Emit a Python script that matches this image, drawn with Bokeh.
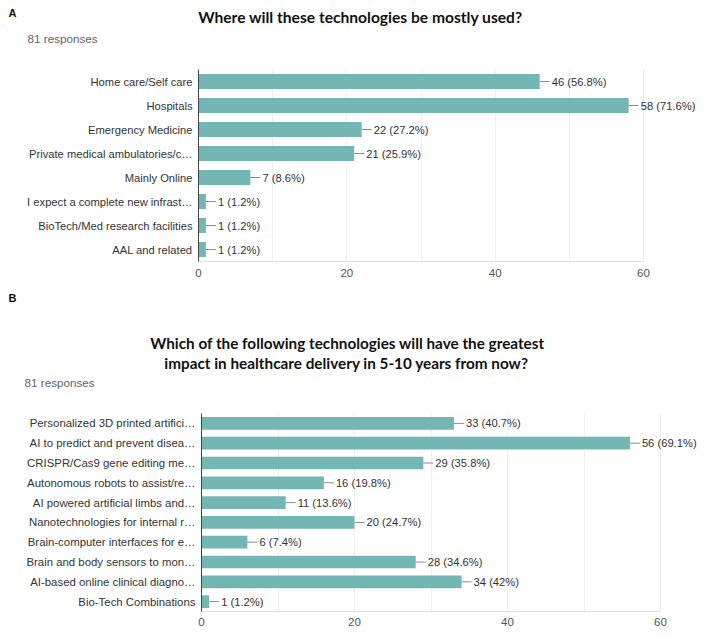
from bokeh.plotting import figure
from bokeh.models import FactorRange, Range1d, FixedTicker, LabelSet, ColumnDataSource, BoxAnnotation
from bokeh.core.properties import value
from bokeh.layouts import column, row
from bokeh.embed import file_html
from bokeh.resources import INLINE

# ---- data: panel A ----
title_a = "Where will these technologies be mostly used?"
resp_a = "81 responses"
cats_a = [
    "Home care/Self care",
    "Hospitals",
    "Emergency Medicine",
    "Private medical ambulatories/c…",
    "Mainly Online",
    "I expect a complete new infrast…",
    "BioTech/Med research facilities",
    "AAL and related",
]
vals_a = [46, 58, 22, 21, 7, 1, 1, 1]
pct_a = [56.8, 71.6, 27.2, 25.9, 8.6, 1.2, 1.2, 1.2]

# ---- data: panel B ----
title_b = ["Which of the following technologies will have the greatest",
           "impact in healthcare delivery in 5-10 years from now?"]
resp_b = "81 responses"
cats_b = [
    "Personalized 3D printed artifici…",
    "AI to predict and prevent disea…",
    "CRISPR/Cas9 gene editing me…",
    "Autonomous robots to assist/re…",
    "AI powered artificial limbs and…",
    "Nanotechnologies for internal r…",
    "Brain-computer interfaces for e…",
    "Brain and body sensors to mon…",
    "AI-based online clinical diagno…",
    "Bio-Tech Combinations",
]
vals_b = [33, 56, 29, 16, 11, 20, 6, 28, 34, 1]
pct_b = [40.7, 69.1, 35.8, 19.8, 13.6, 24.7, 7.4, 34.6, 42, 1.2]

x_ticks = [0, 20, 40, 60]
grid_ticks = [10, 20, 30, 40, 50, 60]
X_MAX = 60

W = 708
BAR = "#74b6b3"
FONT = "Liberation Sans"
TFONT = "Lato"


def make_header(height, items):
    p = figure(width=W, height=height, output_backend="svg", toolbar_location=None,
               x_range=Range1d(0, W), y_range=Range1d(height, 0),
               x_axis_type=None, y_axis_type=None,
               min_border_left=0, min_border_right=0, min_border_top=0, min_border_bottom=0)
    p.outline_line_color = None
    p.grid.visible = False
    for (x, y, text, size, bold, align, font, color) in items:
        p.text(x=[x], y=[y], text=[text], text_font=value(font), text_font_size=size,
               text_font_style="bold" if bold else "normal", text_align=align,
               text_baseline="middle", text_color=color)
    return p


def make_chart(cats, vals, pcts, height, left, frame_w60, top, bottom, bar_h,
               cat_size, standoff, right=2):
    frame_w = W - left - right
    x_end = X_MAX * frame_w / frame_w60
    p = figure(width=W, height=height, output_backend="svg", toolbar_location=None,
               x_range=Range1d(0, x_end), y_range=FactorRange(factors=list(reversed(cats))),
               min_border_left=left, min_border_right=right,
               min_border_top=top, min_border_bottom=bottom)
    p.outline_line_color = None
    src = ColumnDataSource(dict(
        y=cats, v=vals,
        t=[f"{v} ({pc:g}%)" for v, pc in zip(vals, pcts)],
    ))
    # light border of the 0..60 chart area
    p.add_layout(BoxAnnotation(left=0, right=X_MAX, bottom=0, top=len(cats),
                               fill_color=None, line_color="#eaeaea", line_width=1,
                               level="underlay"))
    p.hbar(y="y", left=0, right="v", height=bar_h, source=src,
           fill_color=BAR, line_color=None)
    lead = 10 * X_MAX / frame_w60
    src.data["v1"] = [v + lead for v in vals]
    p.segment(x0="v", x1="v1", y0="y", y1="y", source=src, line_color="#8a8a8a", line_width=1)
    p.add_layout(LabelSet(x="v", y="y", text="t", source=src, x_offset=12,
                          text_baseline="middle", text_align="left",
                          text_font_size="11.2px", text_font=value(FONT), text_color="#333333"))
    p.xaxis.ticker = FixedTicker(ticks=x_ticks)
    p.xaxis.bounds = (0, X_MAX)
    p.xgrid.ticker = FixedTicker(ticks=grid_ticks)
    p.xgrid.grid_line_color = "#eeeeee"
    p.ygrid.grid_line_color = None
    for ax in (p.xaxis, p.yaxis):
        ax.major_tick_line_color = None
        ax.minor_tick_line_color = None
        ax.major_label_text_font = FONT
    p.yaxis.major_label_text_font_size = cat_size
    p.xaxis.major_label_text_font_size = "11.5px"
    p.xaxis.axis_line_color = "#e0e0e0"
    p.xaxis.major_label_text_color = "#555555"
    p.xaxis.major_label_standoff = standoff
    p.yaxis.axis_line_color = "#444444"
    p.yaxis.major_label_text_color = "#333333"
    p.yaxis.major_label_standoff = 0
    return p


ha = make_header(60, [
    (8, 12, "A", "11px", True, "left", FONT, "#111111"),
    (360, 16, title_a, "15.6px", True, "center", TFONT, "#111111"),
    (27, 38, resp_a, "11.7px", False, "left", FONT, "#5f6368"),
])
pa = make_chart(cats_a, vals_a, pct_a, 225, 198, 445, 9, 24, 0.62, "11.2px", 1)

hb = make_header(115, [
    (8, 12, "B", "11px", True, "left", FONT, "#111111"),
    (347, 57, title_b[0], "15.3px", True, "center", TFONT, "#111111"),
    (346, 77, title_b[1], "15.3px", True, "center", TFONT, "#111111"),
    (24, 97, resp_b, "11.7px", False, "left", FONT, "#5f6368"),
])
pb = make_chart(cats_b, vals_b, pct_b, 240, 201, 459, 13, 29, 0.64, "11.4px", 0)

layout = column(row(ha), row(pa), row(hb), row(pb), spacing=0)
open("out.html", "w").write(file_html(layout, INLINE))
